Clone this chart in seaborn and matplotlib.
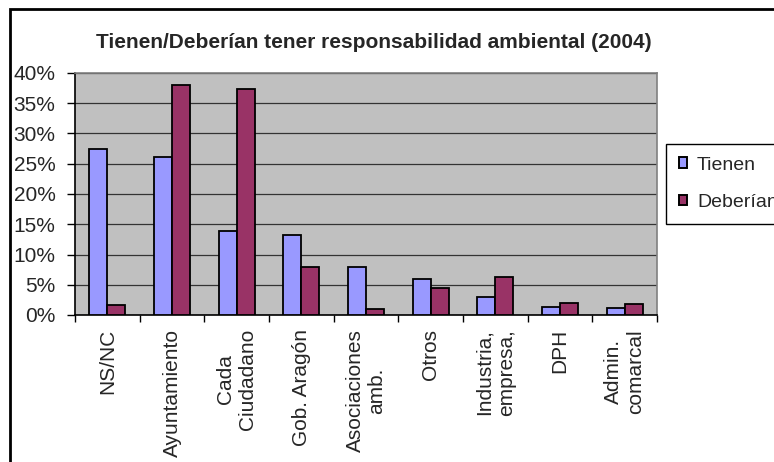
import matplotlib
matplotlib.use("Agg")
import matplotlib.pyplot as plt
import matplotlib.patches as mpatches
from matplotlib.ticker import PercentFormatter, FixedLocator
import seaborn as sns
import pandas as pd

# data (fraction of respondents)
categories = ["NS/NC", "Ayuntamiento", "Cada\nCiudadano", "Gob. Aragón",
              "Asociaciones\namb.", "Otros", "Industria,\nempresa,", "DPH",
              "Admin.\ncomarcal"]
tienen   = [0.274, 0.261, 0.139, 0.132, 0.080, 0.060, 0.030, 0.014, 0.011]
deberian = [0.017, 0.380, 0.373, 0.080, 0.010, 0.044, 0.063, 0.020, 0.018]
series   = ["Tienen", "Deberían"]
title    = "Tienen/Deberían tener responsabilidad ambiental (2004)"

COLORS = {"Tienen": "#9999FF", "Deberían": "#993366"}

df = pd.DataFrame({
    "categoria": categories * 2,
    "valor": tienen + deberian,
    "serie": [series[0]] * len(categories) + [series[1]] * len(categories),
})

sns.set_style("white")
plt.rcParams["font.family"] = ["Liberation Sans", "DejaVu Sans"]

fig = plt.figure(figsize=(7.74, 4.62), dpi=100)
ax = fig.add_axes([75 / 774, 1 - 315 / 462, 582 / 774, 242 / 462])
ax.set_facecolor("#C0C0C0")

sns.barplot(data=df, x="categoria", y="valor", hue="serie", palette=COLORS,
            width=0.56, gap=0, edgecolor="black", linewidth=1.3,
            saturation=1, ax=ax, legend=False, zorder=3)

ax.set_ylim(0, 0.40)
ax.set_xlim(-0.5, len(categories) - 0.5)
ax.set_yticks([i * 0.05 for i in range(9)])
ax.yaxis.set_major_formatter(PercentFormatter(1.0, decimals=0))
ax.yaxis.grid(True, color="#333333", linewidth=0.9)
ax.set_axisbelow(True)
ax.set_xlabel("")
ax.set_ylabel("")

# tick marks between categories, labels centred under each pair
ax.xaxis.set_minor_locator(FixedLocator([i - 0.5 for i in range(len(categories) + 1)]))
ax.tick_params(axis="x", which="major", length=0, pad=10, labelsize=15,
               labelrotation=90)
ax.tick_params(axis="x", which="minor", length=5, width=1, color="black",
               direction="out", bottom=True)
ax.tick_params(axis="y", length=6, width=1, color="black", direction="out",
               left=True, labelsize=15, pad=8)
for lab in ax.get_xticklabels():
    lab.set_multialignment("center")

for side in ["left", "bottom"]:
    ax.spines[side].set_color("black")
    ax.spines[side].set_linewidth(1.2)
for side in ["top", "right"]:
    ax.spines[side].set_color("#808080")
    ax.spines[side].set_linewidth(1.2)

fig.text(0.4826, 1 - 42 / 462, title, ha="center", va="center",
         fontsize=15, fontweight="bold")

handles = [mpatches.Patch(facecolor=COLORS[s], edgecolor="black", linewidth=1.4,
                          label=s) for s in series]
leg = fig.legend(handles=handles, loc="upper left",
                 bbox_to_anchor=(666 / 774, 1 - 144 / 462), fontsize=14,
                 frameon=True, fancybox=False, framealpha=1, borderpad=0.65,
                 borderaxespad=0, handlelength=0.45, handleheight=0.45,
                 handletextpad=0.5, labelspacing=1.05)
leg.get_frame().set_edgecolor("black")
leg.get_frame().set_linewidth(1.0)

# outer chart-area border, runs off the right and bottom of the picture
fig.patches.append(mpatches.Rectangle((10 / 774, -0.05), 1.0, 1.05 - 9 / 462,
                                      transform=fig.transFigure, fill=False,
                                      edgecolor="black", linewidth=2))

fig.savefig("out.png", dpi=100)
